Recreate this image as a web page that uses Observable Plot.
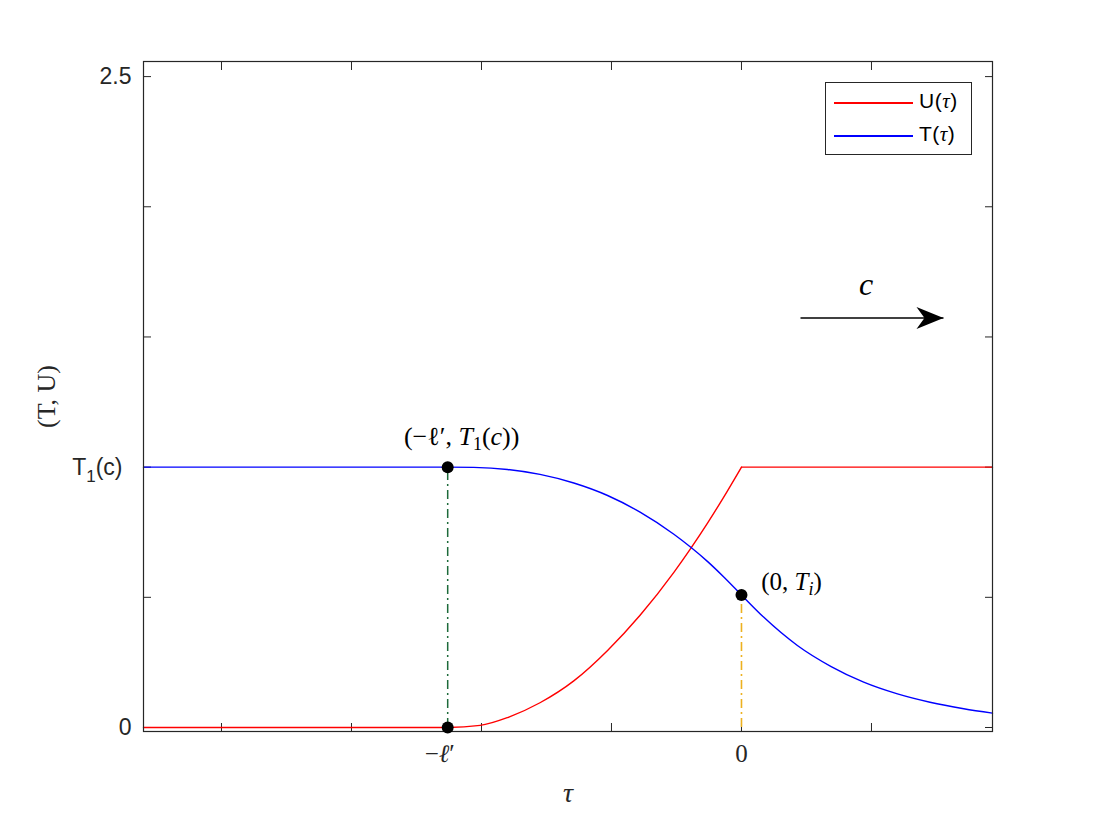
<!DOCTYPE html>
<html><head><meta charset="utf-8">
<script src="https://cdn.jsdelivr.net/npm/d3@7"></script>
<script src="https://cdn.jsdelivr.net/npm/@observablehq/plot@0.6"></script>
<style>
body{margin:0;background:#fff;}
#wrap{position:relative;width:1096px;height:822px;background:#fff;}
#legend{position:absolute;left:825px;top:82px;width:145px;height:71px;border:1px solid #262626;background:#fff;font-family:"Liberation Sans",Arial,sans-serif;font-size:21px;color:#000;}
.row{position:absolute;left:0;height:24px;width:145px;}
.sw{position:absolute;left:8px;top:0;width:79px;height:1.5px;}
.lt{position:absolute;left:93px;top:-13px;white-space:nowrap;letter-spacing:0.5px;}
.tau{font-family:"Liberation Serif",serif;font-style:italic;}
</style></head><body><div id="wrap"></div>
<script>
// ---- data ----
const tauT = [-4.6, -2.26, -2.06, -1.80, -1.55, -1.29, -1.03, -0.78, -0.52, -0.39, -0.26, -0.14, 0, 0.17, 0.43, 0.69, 0.94, 1.20, 1.45, 1.71, 1.931];
const T    = [1.0, 1.0, 0.999, 0.991, 0.972, 0.939, 0.891, 0.827, 0.742, 0.692, 0.637, 0.580, 0.509, 0.424, 0.315, 0.234, 0.174, 0.129, 0.097, 0.072, 0.055];
const tauU = [-4.6, -2.26, -2.01, -1.80, -1.55, -1.29, -1.03, -0.78, -0.52, -0.39, -0.26, -0.14, 0];
const U    = [0, 0, 0.008, 0.038, 0.095, 0.179, 0.296, 0.431, 0.596, 0.688, 0.786, 0.882, 1.0];
const tauUflat = [0, 1.931];
const Uflat    = [1.0, 1.0];
const tauDomain = [-4.6, 1.931];
const valDomain = [-0.0154, 2.558];
const xTicks = [-4, -3, -2, -1, 0, 1];
const yTicks = [0, 0.5, 1, 1.5, 2, 2.5];
const ellPrime = -2.26;
const T1c = 1.0;
const Ti = 0.509;
const xLabelEll = "−ℓ′";
const xLabelZero = "0";
const yLabelPos = [0, 2.5];
const yLabelText = ["0", "2.5"];
const yT1Pos = [T1c];
const yT1Text = ["T1(c)"];
const arrowTau = [0.454, 1.554];
const arrowVal = 1.573;
const arrowLabel = "c";
const pointTau = [ellPrime, ellPrime, 0];
const pointVal = [T1c, 0, Ti];
const pointLabels = ["(−ℓ′, T1(c))", "(0, Ti)"];
const seriesNames = ["U", "T"];
const seriesColors = ["#ff0000", "#0000ff"];

// ---- tables ----
const dT = tauT.map((t, i) => ({tau: t, v: T[i]}));
const dU = tauU.map((t, i) => ({tau: t, v: U[i]}));
const dUf = tauUflat.map((t, i) => ({tau: t, v: Uflat[i]}));
const dPts = pointTau.map((t, i) => ({tau: t, v: pointVal[i]}));
const dYL = yLabelPos.map((v, i) => ({v, s: yLabelText[i]}));
const dYT = yT1Pos.map((v, i) => ({v, s: yT1Text[i]}));

const axisCol = "#262626";
const sans = "Liberation Sans, Arial, sans-serif";
const serif = "Liberation Serif, Times New Roman, serif";

const stealth = {
  draw(ctx) {
    ctx.moveTo(0, 0);
    ctx.lineTo(-27, -11);
    ctx.lineTo(-19, 0);
    ctx.lineTo(-27, 11);
    ctx.closePath();
  }
};

const dash = "9,4,2,4";

const chart = Plot.plot({
  width: 1096, height: 822,
  marginLeft: 143, marginRight: 104, marginTop: 61, marginBottom: 91,
  style: {background: "#fff", overflow: "visible"},
  x: {domain: tauDomain},
  y: {domain: valDomain},
  marks: [
    Plot.axisX(xTicks, {anchor: "bottom", tickSize: -8, fill: "none", label: null, stroke: axisCol}),
    Plot.axisX(xTicks, {anchor: "top", tickSize: -8, fill: "none", label: null, stroke: axisCol}),
    Plot.axisY(yTicks, {anchor: "left", tickSize: -8, fill: "none", label: null, stroke: axisCol}),
    Plot.axisY(yTicks, {anchor: "right", tickSize: -8, fill: "none", label: null, stroke: axisCol}),
    Plot.ruleX([ellPrime], {x: d => d, y1: 0, y2: T1c, stroke: "#1d6a3a", strokeWidth: 1.5, strokeDasharray: dash}),
    Plot.ruleX([0], {x: d => d, y1: 0, y2: Ti, stroke: "#EDB120", strokeWidth: 1.6, strokeDasharray: dash}),
    Plot.line(dU, {x: "tau", y: "v", stroke: seriesColors[0], strokeWidth: 1.4, curve: "monotone-x"}),
    Plot.line(dUf, {x: "tau", y: "v", stroke: seriesColors[0], strokeWidth: 1.4}),
    Plot.line(dT, {x: "tau", y: "v", stroke: seriesColors[1], strokeWidth: 1.4, curve: "monotone-x"}),
    Plot.frame({stroke: axisCol, strokeWidth: 1.2}),
    Plot.dot(dPts, {x: "tau", y: "v", r: 6, fill: "#000", stroke: null}),
    Plot.link([arrowTau], {x1: d => d[0], x2: d => d[1], y1: arrowVal, y2: arrowVal, stroke: "#000", strokeWidth: 1.5}),
    Plot.dot([arrowTau], {x: d => d[1], y: arrowVal, symbol: stealth, fill: "#000", stroke: null, r: 10}),
    Plot.text([arrowLabel], {x: (arrowTau[0] + arrowTau[1]) / 2, y: arrowVal, dx: -6, dy: -33, text: d => d, fontFamily: serif, fontStyle: "italic", fontSize: 32, fill: "#000"}),
    Plot.text([pointLabels[0]], {x: ellPrime, y: T1c, dx: 14, dy: -30, text: d => d, fontFamily: serif, fontSize: 26, fill: "#000"}),
    Plot.text([pointLabels[1]], {x: 0, y: Ti, dx: 50, dy: -13, text: d => d, fontFamily: serif, fontSize: 25, fill: "#000"}),
    Plot.text([xLabelEll], {x: ellPrime, frameAnchor: "bottom", dx: -8, dy: 30, text: d => d, fontFamily: serif, fontSize: 25, fill: axisCol}),
    Plot.text([xLabelZero], {x: 0, frameAnchor: "bottom", dy: 30, text: d => d, fontFamily: serif, fontSize: 25, fill: axisCol}),
    Plot.text(dYL, {y: "v", frameAnchor: "left", dx: -12, textAnchor: "end", text: "s", fontFamily: sans, fontSize: 23, fill: axisCol}),
    Plot.text(dYT, {y: "v", frameAnchor: "left", dx: -21, textAnchor: "end", text: "s", fontFamily: sans, fontSize: 23, fill: axisCol}),
    Plot.text(["τ"], {frameAnchor: "bottom", dy: 70, text: d => d, fontFamily: serif, fontStyle: "italic", fontSize: 28, fill: axisCol}),
    Plot.text(["(T, U)"], {frameAnchor: "left", textAnchor: "middle", dx: -97, rotate: -90, text: d => d, fontFamily: serif, fontSize: 26, fill: axisCol})
  ]
});

// rich-text formatting (italics, subscripts) for the math labels
function rich(svg, plain, parts, subShift, subSize) {
  d3.select(svg).selectAll("text").filter(function() { return this.textContent === plain; }).each(function() {
    const t = d3.select(this);
    t.text(null);
    let shift = 0;
    for (const p of parts) {
      const sp = t.append("tspan").text(p.t);
      if (p.i) sp.attr("font-style", "italic");
      const target = p.sub ? subShift : 0;
      if (target !== shift) { sp.attr("dy", target - shift); shift = target; }
      if (p.sub) sp.attr("font-size", subSize);
    }
  });
}
rich(chart, "(−ℓ′, T1(c))", [{t: "(−ℓ′, "}, {t: "T", i: true}, {t: "1", sub: true}, {t: "("}, {t: "c", i: true}, {t: "))"}], 5, 18);
rich(chart, "(0, Ti)", [{t: "(0, "}, {t: "T", i: true}, {t: "i", i: true, sub: true}, {t: ")"}], 5, 18);
rich(chart, "T1(c)", [{t: "T"}, {t: "1", sub: true}, {t: "(c)"}], 8, 17);
rich(chart, "−ℓ′", [{t: "−"}, {t: "ℓ", i: true}, {t: "′"}], 0, 25);

const wrap = document.getElementById("wrap");
wrap.appendChild(chart);

// legend
const legend = document.createElement("div");
legend.id = "legend";
seriesNames.forEach((name, i) => {
  const row = document.createElement("div");
  row.className = "row";
  row.style.top = (19 + i * 33) + "px";
  row.innerHTML = `<div class="sw" style="background:${seriesColors[i]}"></div><div class="lt">${name}(<span class="tau">τ</span>)</div>`;
  legend.appendChild(row);
});
wrap.appendChild(legend);
</script>
</body></html>
